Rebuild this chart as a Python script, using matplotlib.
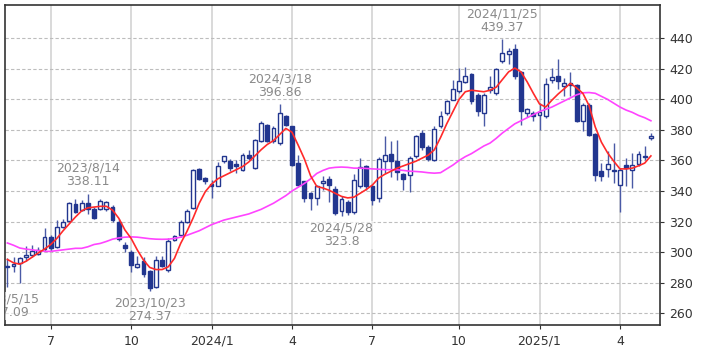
import matplotlib
matplotlib.use("Agg")
import matplotlib.pyplot as plt
import numpy as np

# weekly candles, first week 2023/5/15, last 2025/5/12
opens = [291, 290.8, 293, 296.5, 298, 299, 302, 310, 303.5, 316.5,
         320.7, 331.6, 327.7, 332, 328, 328.1, 328, 329.5, 320, 304.7,
         300.3, 290.4, 294.4, 287.5, 277.3, 294.8, 288, 308, 311.3, 319.5,
         328.7, 354.4, 348.5, 344.5, 343.6, 359.4, 359.4, 358, 354, 363.8,
         355, 372.5, 383.5, 373, 371.5, 389, 382.4, 358.3, 346.3, 338.6,
         335.3, 345.5, 347.8, 341.5, 327, 332.5, 326.5, 343, 356.5, 343,
         335.3, 359.5, 364.5, 359.8, 351, 350.3, 362.7, 378, 368.8, 360.5,
         382.4, 391.2, 399.9, 405.4, 411.3, 416.3, 403.2, 391.2, 406, 404.3,
         425.1, 429.5, 432.8, 417.9, 391.2, 391.2, 390, 389, 412.6, 415.3,
         408.5, 410.9, 409.1, 385.7, 396.6, 377.6, 352.8, 354.6, 353, 344,
         357.2, 353.9, 357.9, 362.2, 374.5]
highs = [296, 297, 297, 304, 305, 303.5, 315.5, 311, 321, 322,
         333, 334.7, 334, 338.11, 329.5, 334.5, 333.5, 331, 322, 306.8,
         301.4, 297.4, 297, 288.2, 297.4, 297.4, 309, 311.3, 321, 328,
         354.4, 355, 349.5, 347.5, 359, 363.1, 360.9, 360.5, 364.9, 367,
         374.1, 385.7, 384.2, 382.4, 396.86, 390.1, 382.8, 363.8, 346.8, 339.7,
         344.1, 349.6, 350, 343, 337, 334, 351, 361.6, 357, 344,
         362, 375.8, 372.5, 373.6, 351.7, 362.7, 376.9, 380.2, 369.9, 382.4,
         392.3, 399.9, 413, 420.7, 421.4, 417.4, 404.3, 404.3, 415.2, 420.7,
         439.37, 433.9, 436, 418.5, 394.4, 392.3, 397.7, 414.2, 420.7, 426.2,
         414.2, 417.9, 409.8, 397.7, 397.7, 378, 358.3, 366, 371.4, 355,
         361.6, 364.9, 366, 369.3, 378]
lows = [277.09, 287, 280, 294, 297, 298, 301, 301, 303, 315.5,
        320, 325.5, 326.8, 325, 321.5, 327.5, 327, 320, 307, 300.3,
        287, 289.3, 283.9, 274.37, 276.8, 290.4, 287.1, 307.5, 310.1, 318.9,
        328, 347, 344.7, 335.3, 343.4, 358.3, 352.8, 352, 352.8, 360.5,
        354.4, 371.9, 371.9, 371.5, 370.4, 382.4, 356.5, 343, 333.1, 327.6,
        331, 340.8, 333.1, 324.5, 323.8, 324.5, 325, 341.9, 341, 331,
        333, 352, 349.5, 347.4, 340.8, 339.7, 361.6, 367, 359.4, 359.8,
        381.3, 390, 399.5, 404.3, 410.9, 397.3, 389.4, 382.4, 404.3, 403.2,
        424, 422.9, 413.5, 383.5, 388.5, 385.7, 380.2, 387.9, 410.9, 406.5,
        402.1, 402.1, 385, 379.1, 376.3, 346.3, 346.3, 349.5, 345, 326.1,
        343, 341.9, 356.1, 360.5, 373.6]
closes = [290, 292.5, 296, 298, 301, 301.5, 310, 302.5, 316.7, 320,
          332, 326.6, 332, 328, 322.6, 333.3, 332.5, 321.1, 308.5, 302.5,
          291.5, 292.2, 285.6, 276.5, 294.8, 291.1, 307.5, 310.6, 320, 327.2,
          353.9, 347.8, 346.3, 343, 356.1, 362.7, 355, 356.5, 363.8, 361.6,
          373.6, 384.6, 372.5, 381, 391.2, 383.5, 357.2, 344.1, 335.3, 335.3,
          343.4, 346.3, 344.1, 325.5, 335, 326.5, 347.4, 356, 343, 334.2,
          361, 363.3, 359.4, 352.5, 348.2, 361.6, 375.8, 368.8, 361, 380.6,
          389.4, 398.8, 406.9, 412, 415.2, 398.8, 392.3, 403.2, 408.2, 420.1,
          430.6, 431.7, 415.2, 392.3, 393.4, 389.4, 391.5, 409.8, 414.8, 412,
          411, 409.1, 385.7, 396.6, 376.9, 350.6, 350, 357.9, 354, 354,
          355, 357.2, 364.4, 363.1, 376.3]

ma_short = [295.2, 293, 292.1, 294, 296.7, 299.5, 302, 305, 309, 314,
            318.5, 323, 327, 329, 329.5, 330, 330, 327.5, 322.2, 314.5,
            309, 301.4, 294.8, 290, 288.6, 288.6, 290.4, 295.9, 305.7, 313.4,
            322.2, 332, 339.7, 344.5, 348, 350, 352, 354, 356, 359,
            363, 367, 370.5, 373, 377, 381, 378.5, 370, 361, 350,
            343, 342, 340.5, 338.5, 336.5, 335.5, 336, 338.5, 341, 344,
            348.5, 351, 353, 355, 356.5, 358, 359.5, 361.5, 363.5, 367,
            375, 384, 392, 400, 405, 406, 405.5, 405, 406, 408,
            413, 418, 420.5, 418, 411.5, 404, 397, 395, 399.5, 403.5,
            407, 410.5, 407.5, 404, 396, 382, 372, 365, 359.5, 354.5,
            354.5, 355, 356.5, 358.3, 363]
ma_long = [306, 304.5, 302.7, 302, 301.5, 301, 300.5, 300.5, 301, 301.5,
           302, 302.5, 302.5, 303.5, 305, 305.7, 307, 308.5, 309.3, 309.8,
           310, 309.8, 309.3, 308.8, 308.5, 308.4, 308.5, 309, 309.8, 311,
           312.5, 314, 316, 318, 319.5, 321, 322, 323, 324, 325,
           326.5, 328, 330, 332, 334.5, 337, 340, 342.5, 345, 348,
           351.5, 353.5, 355, 355.5, 355.7, 355.5, 355, 355, 354.8, 354.5,
           354.3, 354, 354, 353.9, 353.5, 353, 352.8, 352.5, 352, 351.7,
           352, 354.5, 357, 360, 362.5, 364.5, 367, 369.5, 371.4, 374.5,
           378, 381, 384, 386, 388, 390, 392, 393.5, 395, 397,
           399, 401, 403, 404.3, 404.5, 404, 402, 400, 397.5, 395,
           393, 391.5, 389.5, 388, 386]

tick_weeks = [7, 20, 33, 46, 59, 73, 86, 99]
tick_labels = ["7", "10", "2024/1", "4", "7", "10", "2025/1", "4"]

# (week index, label, price, above?)
marks = [(0, "2023/5/15", 277.09, False),
         (13, "2023/8/14", 338.11, True),
         (23, "2023/10/23", 274.37, False),
         (44, "2024/3/18", 396.86, True),
         (54, "2024/5/28", 323.8, False),
         (80, "2024/11/25", 439.37, True)]

NAVY = "#22368f"
o = np.array(opens); h = np.array(highs); l = np.array(lows); c = np.array(closes)
x = np.arange(len(o))
up = c >= o

fig = plt.figure(figsize=(7.09, 3.54), dpi=100)
ax = fig.add_axes([5 / 709, 29 / 354, 655 / 709, 320 / 354])

for t in tick_weeks:
    ax.axvline(t, color="#d9d9d9", lw=1.4, zorder=0)
for yv in range(260, 460, 20):
    ax.axhline(yv, color="#bdbdbd", lw=0.8, ls=(0, (3, 2)), zorder=0)

ax.vlines(x, l, h, color="#4a5aa6", lw=1.0, zorder=2)
ax.bar(x[up], (c - o)[up], bottom=o[up], width=0.62, facecolor="white",
       edgecolor=NAVY, lw=1.0, zorder=3)
ax.bar(x[~up], (o - c)[~up], bottom=c[~up], width=0.62, facecolor=NAVY,
       edgecolor=NAVY, lw=1.0, zorder=3)

ax.plot(x, ma_long, color="#ff44ff", lw=1.2, zorder=4)
ax.plot(x, ma_short, color="#ff2a2a", lw=1.2, zorder=4)

for i, lbl, price, above in marks:
    y = h[i] if above else l[i]
    ax.annotate(f"{lbl}\n{price:g}", xy=(i, y),
                xytext=(0, 4 if above else -4), textcoords="offset points",
                ha="center", va="bottom" if above else "top",
                fontsize=9, color="#8a8a8a", linespacing=1.05,
                clip_on=True, zorder=6,
                bbox=dict(fc="white", ec="none", alpha=0.6, pad=0.5))

ax.set_xlim(-0.385, 105.47)
ax.set_ylim(252.3, 461.8)
ax.set_yticks(range(260, 460, 20))
ax.yaxis.tick_right()
ax.set_xticks(tick_weeks)
ax.set_xticklabels(tick_labels)
ax.tick_params(axis="both", labelsize=9, colors="#333333", length=3, width=0.8)
ax.tick_params(axis="x", pad=4)
for s in ax.spines.values():
    s.set_color("#333333")
    s.set_linewidth(1.2)

fig.savefig("out.png", dpi=100)
